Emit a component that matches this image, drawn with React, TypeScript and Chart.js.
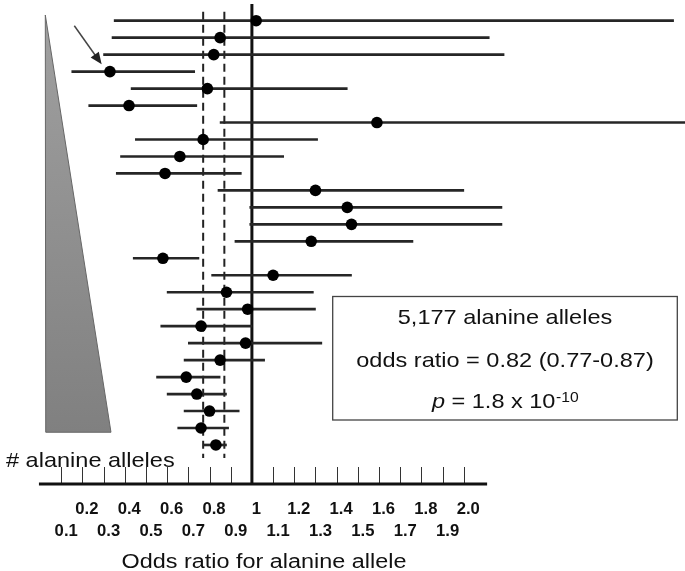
import React, { useEffect, useRef } from 'react';
import { Chart, registerables } from 'chart.js';

Chart.register(...registerables);

// ---- data (top row first) ----
const studyRows = [1, 2, 3, 4, 5, 6, 7, 8, 9, 10, 11, 12, 13, 14, 15, 16, 17, 18, 19, 20, 21, 22, 23, 24, 25, 26];
const oddsRatios = [1.02, 0.85, 0.82, 0.33, 0.79, 0.42, 1.59, 0.77, 0.66, 0.59, 1.30, 1.45, 1.47, 1.28, 0.58, 1.10, 0.88, 0.98, 0.76, 0.97, 0.85, 0.69, 0.74, 0.80, 0.76, 0.83];
const lowerCI = [0.35, 0.34, 0.30, 0.15, 0.43, 0.23, 0.85, 0.45, 0.38, 0.36, 0.84, 0.99, 0.99, 0.92, 0.44, 0.81, 0.60, 0.74, 0.57, 0.70, 0.68, 0.55, 0.60, 0.68, 0.65, 0.77];
const upperCI = [2.99, 2.12, 2.19, 0.73, 1.45, 0.74, 3.05, 1.31, 1.15, 0.95, 2.00, 2.18, 2.18, 1.76, 0.75, 1.47, 1.29, 1.30, 1.00, 1.33, 1.06, 0.85, 0.88, 0.94, 0.89, 0.88];

const tickValues = [0.1, 0.2, 0.3, 0.4, 0.5, 0.6, 0.7, 0.8, 0.9, 1.0, 1.1, 1.2, 1.3, 1.4, 1.5, 1.6, 1.7, 1.8, 1.9, 2.0];
const upperTickLabels = ['0.2', '0.4', '0.6', '0.8', '1', '1.2', '1.4', '1.6', '1.8', '2.0'];
const lowerTickLabels = ['0.1', '0.3', '0.5', '0.7', '0.9', '1.1', '1.3', '1.5', '1.7', '1.9'];

const nullOddsRatio = 1.0;
const pooledCI = [0.77, 0.87];
const summaryLines = ['5,177 alanine alleles', 'odds ratio = 0.82 (0.77-0.87)'];
const pLabel = 'p';
const pValueText = ' = 1.8 x 10';
const pExponent = '-10';
const axisTitle = 'Odds ratio for alanine allele';
const sideLabel = '# alanine alleles';

// ---- helpers ----
const SX = 1.12;
const FAMILY = '"Liberation Sans", Arial, Helvetica, sans-serif';

function stretchText(ctx: CanvasRenderingContext2D, text: string, x: number, y: number, font: string, align: string, color = '#111', sx = SX) {
  ctx.save();
  ctx.font = font;
  ctx.fillStyle = color;
  ctx.textBaseline = 'alphabetic';
  ctx.textAlign = 'left';
  const w = ctx.measureText(text).width * sx;
  let left = x;
  if (align === 'center') left = x - w / 2;
  else if (align === 'right') left = x - w;
  ctx.translate(left, y);
  ctx.scale(sx, 1);
  ctx.fillText(text, 0, 0);
  ctx.restore();
  return w;
}

function measure(ctx: CanvasRenderingContext2D, text: string, font: string, sx = SX) {
  ctx.save();
  ctx.font = font;
  const w = ctx.measureText(text).width * sx;
  ctx.restore();
  return w;
}

const forestDecor = {
  id: 'forestDecor',
  beforeDatasetsDraw(chart: any) {
    const { ctx, scales } = chart;
    const x = scales.x;
    const y = scales.y;
    const px = (v: number) => x.getPixelForValue(v);
    const py = (v: number) => y.getPixelForValue(v);
    const axisY = py(y.max);

    ctx.save();
    // gray wedge (sample size indicator)
    const topY = py(0.664);
    const botY = py(25.25);
    const grad = ctx.createLinearGradient(0, topY, 0, botY);
    grad.addColorStop(0, '#a0a0a0');
    grad.addColorStop(1, '#808080');
    ctx.beginPath();
    ctx.moveTo(px(0.025), topY);
    ctx.lineTo(px(0.335), botY);
    ctx.lineTo(px(0.027), botY);
    ctx.closePath();
    ctx.fillStyle = grad;
    ctx.fill();
    ctx.strokeStyle = '#666';
    ctx.lineWidth = 1;
    ctx.stroke();

    // arrow
    const ax0 = px(0.162), ay0 = py(1.295), ax1 = px(0.291), ay1 = py(3.57);
    const ang = Math.atan2(ay1 - ay0, ax1 - ax0);
    const hl = 12, hw = 5;
    ctx.strokeStyle = '#444';
    ctx.lineWidth = 1.5;
    ctx.beginPath();
    ctx.moveTo(ax0, ay0);
    ctx.lineTo(ax1 - Math.cos(ang) * hl * 0.8, ay1 - Math.sin(ang) * hl * 0.8);
    ctx.stroke();
    ctx.beginPath();
    ctx.moveTo(ax1, ay1);
    ctx.lineTo(ax1 - Math.cos(ang) * hl - Math.sin(ang) * hw, ay1 - Math.sin(ang) * hl + Math.cos(ang) * hw);
    ctx.lineTo(ax1 - Math.cos(ang) * hl + Math.sin(ang) * hw, ay1 - Math.sin(ang) * hl - Math.cos(ang) * hw);
    ctx.closePath();
    ctx.fillStyle = '#222';
    ctx.fill();

    // pooled CI dashed lines
    ctx.strokeStyle = '#222';
    ctx.lineWidth = 2;
    ctx.setLineDash([8, 5]);
    pooledCI.forEach((v) => {
      ctx.beginPath();
      ctx.moveTo(px(v), py(0.47));
      ctx.lineTo(px(v), py(26.77));
      ctx.stroke();
    });
    ctx.setLineDash([]);

    // null line
    ctx.strokeStyle = '#111';
    ctx.lineWidth = 3;
    ctx.beginPath();
    ctx.moveTo(px(nullOddsRatio), py(0.016));
    ctx.lineTo(px(nullOddsRatio), axisY);
    ctx.stroke();

    // ticks
    ctx.strokeStyle = '#333';
    ctx.lineWidth = 1;
    tickValues.forEach((v) => {
      if (v === nullOddsRatio) return;
      const xx = Math.round(px(v)) + 0.5;
      ctx.beginPath();
      ctx.moveTo(xx, axisY - 17);
      ctx.lineTo(xx, axisY);
      ctx.stroke();
    });

    // axis line
    ctx.strokeStyle = '#111';
    ctx.lineWidth = 3.2;
    ctx.beginPath();
    ctx.moveTo(px(-0.005), axisY);
    ctx.lineTo(px(2.11), axisY);
    ctx.stroke();

    // tick labels
    const tickFont = `bold 16px ${FAMILY}`;
    upperTickLabels.forEach((t) => {
      stretchText(ctx, t, px(parseFloat(t)) + 4.5, axisY + 30, tickFont, 'center', '#111', 1.04);
    });
    lowerTickLabels.forEach((t) => {
      stretchText(ctx, t, px(parseFloat(t)) + 5, axisY + 52, tickFont, 'center', '#111', 1.04);
    });

    // axis title
    const midAxis = (px(-0.005) + px(2.11)) / 2;
    stretchText(ctx, axisTitle, midAxis + 1, axisY + 84, `20px ${FAMILY}`, 'center', '#111', 1.17);

    // side label
    stretchText(ctx, sideLabel, 6, axisY - 17.3, `21px ${FAMILY}`, 'left', '#111');
    ctx.restore();
  },
  afterDraw(chart: any) {
    const { ctx } = chart;
    ctx.save();
    // summary box
    const bx = 332.7, by = 296.5, bw = 344.6, bh = 123.5;
    ctx.strokeStyle = '#444';
    ctx.lineWidth = 1.3;
    ctx.strokeRect(bx, by, bw, bh);
    const cx = bx + bw / 2;
    const f = `21px ${FAMILY}`;
    stretchText(ctx, summaryLines[0], cx, 324.3, f, 'center');
    stretchText(ctx, summaryLines[1], cx, 367.3, f, 'center');
    const fi = `italic 21px ${FAMILY}`;
    const fs = `14px ${FAMILY}`;
    const w1 = measure(ctx, pLabel, fi);
    const w2 = measure(ctx, pValueText, f);
    const w3 = measure(ctx, pExponent, fs);
    let sx0 = cx - (w1 + w2 + w3) / 2;
    stretchText(ctx, pLabel, sx0, 408.3, fi, 'left');
    sx0 += w1;
    stretchText(ctx, pValueText, sx0, 408.3, f, 'left');
    sx0 += w2;
    stretchText(ctx, pExponent, sx0 + 0.5, 401.5, fs, 'left');
    ctx.restore();
  },
};

export default function App() {
  const canvasRef = useRef<HTMLCanvasElement | null>(null);

  useEffect(() => {
    const canvas = canvasRef.current;
    if (!canvas) return;
    const chart = new Chart(canvas, {
      type: 'bar',
      data: {
        datasets: [
          {
            type: 'scatter',
            label: 'Odds ratio',
            data: oddsRatios.map((v, i) => ({ x: v, y: studyRows[i] })),
            pointRadius: 5.8,
            pointHoverRadius: 5.8,
            pointBackgroundColor: '#000',
            pointBorderColor: '#000',
            pointBorderWidth: 0,
            showLine: false,
            clip: false,
            order: 0,
          } as any,
          {
            type: 'bar',
            label: '95% CI',
            indexAxis: 'y',
            data: lowerCI.map((lo, i) => ({ x: [lo, upperCI[i]], y: studyRows[i] })),
            backgroundColor: '#262626',
            borderWidth: 0,
            barThickness: 2,
            clip: false,
            order: 1,
          } as any,
        ],
      },
      options: {
        animation: false,
        responsive: false,
        devicePixelRatio: 1,
        layout: { autoPadding: false, padding: { left: 40, right: 9.3, top: 3.73, bottom: 87 } },
        plugins: {
          legend: { display: false },
          tooltip: { enabled: false },
          title: { display: false },
        },
        scales: {
          x: { type: 'linear', min: 0, max: 3.0, offset: false, display: false, grid: { offset: false } },
          y: { type: 'linear', min: 0, max: 28.3, reverse: true, offset: false, display: false, grid: { offset: false } },
        },
      } as any,
      plugins: [forestDecor],
    });
    return () => chart.destroy();
  }, []);

  return (
    <div style={{ position: 'absolute', left: 0, top: 0, width: 685, height: 571, background: '#fff' }}>
      <canvas ref={canvasRef} width={685} height={571} style={{ display: 'block' }} />
    </div>
  );
}
